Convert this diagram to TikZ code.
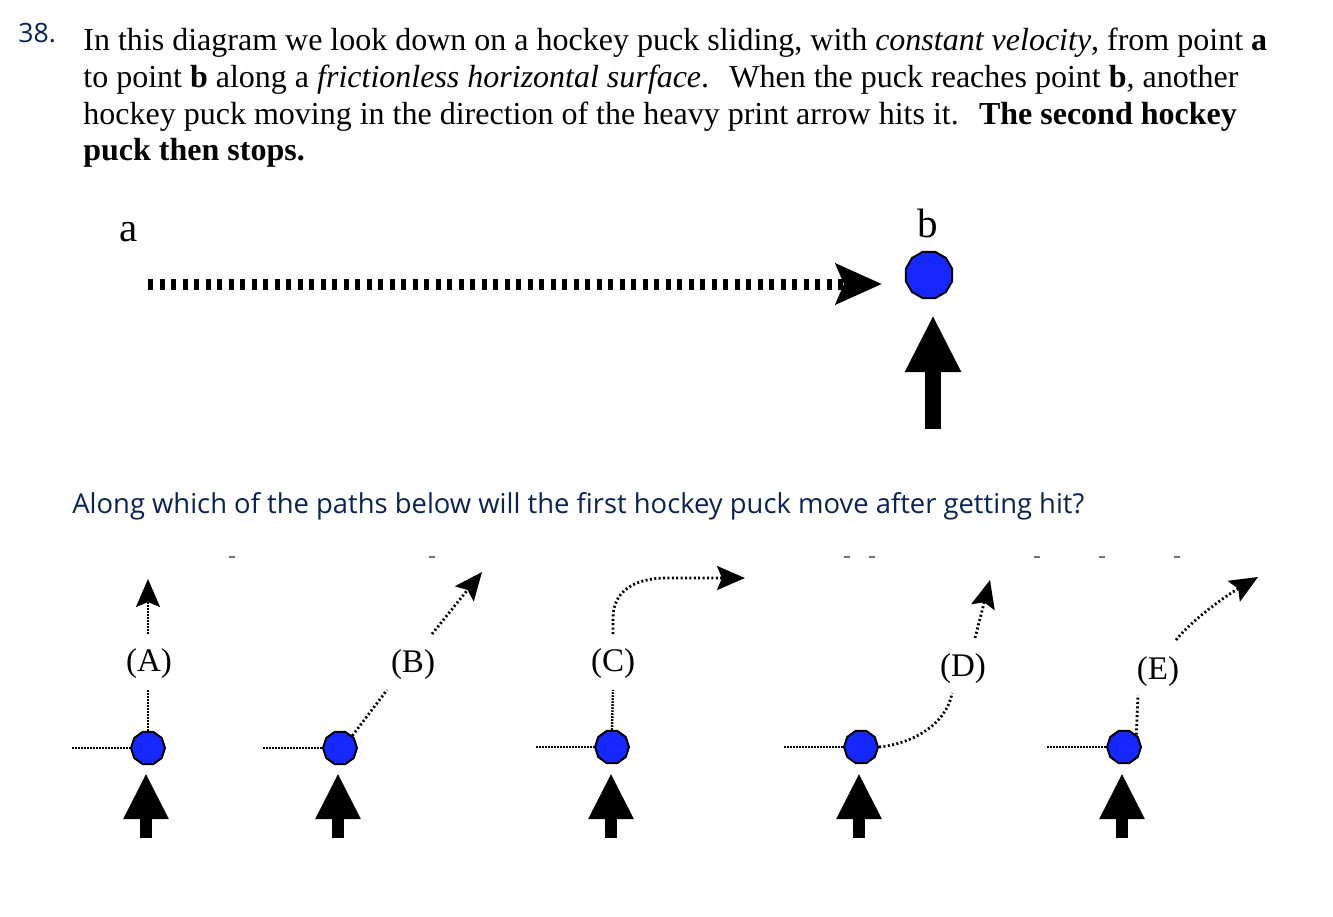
\documentclass[tikz,border=0pt]{standalone}
\usepackage{fontspec}
\setmainfont{Liberation Serif}
\newfontfamily\qfont{Open Sans}
\usetikzlibrary{arrows.meta,shapes.geometric}
\definecolor{qnavy}{RGB}{10,35,85}
\definecolor{puckblue}{RGB}{20,40,255}
\begin{document}
\begin{tikzpicture}[x=0.5pt,y=-0.5pt,
  txt/.style={anchor=base west, inner sep=0pt, font=\fontsize{16}{19}\selectfont},
  qtxt/.style={anchor=base west, inner sep=0pt, text=qnavy},
  lbl/.style={anchor=base, inner sep=0pt, font=\fontsize{20.5}{24}\selectfont},
  optlbl/.style={anchor=base, inner sep=0pt, font=\fontsize{16.5}{20}\selectfont},
  bigpuck/.style={draw=black, line width=1pt, fill=puckblue, regular polygon, regular polygon sides=12, inner sep=0pt, minimum size=24pt},
  puck/.style={draw=black, line width=1pt, fill=puckblue, regular polygon, regular polygon sides=10, inner sep=0pt, minimum size=17pt},
  heavy/.style={line width=8pt, -{Triangle[length=28.5pt,width=26pt]}},
  hit/.style={line width=6pt, -{Triangle[length=23pt,width=21pt]}},
  bigdots/.style={line width=5.5pt, dash pattern=on 2.5pt off 3.25pt, -{Stealth[length=23pt,width=20pt,inset=4pt]}},
  finedots/.style={line width=1.2pt, dash pattern=on 0.8pt off 0.7pt},
  pathdots/.style={line width=1.4pt, dash pattern=on 1pt off 1.2pt},
  tip/.style={-{Stealth[length=14pt,width=12pt,inset=2.5pt]}},
  stray/.style={line width=0.8pt, draw=black!55}
]
\useasboundingbox (0,0) rectangle (1333,916);

% header text
\node[qtxt, font=\qfont\fontsize{13.3}{16}\selectfont] (num) at (18,42) {38.};
\node[txt] (l1) at (83,50) {In this diagram we look down on a hockey puck sliding, with \textit{constant velocity}, from point \textbf{a}};
\node[txt] (l2) at (83,87) {to point \textbf{b} along a \textit{frictionless horizontal surface}.\hspace{0.3em} When the puck reaches point \textbf{b}, another};
\node[txt] (l3) at (83,124) {hockey puck moving in the direction of the heavy print arrow hits it.\hspace{0.3em} \textbf{The second hockey}};
\node[txt] (l4) at (83,160) {\textbf{puck then stops.}};

% top diagram
\node[lbl] (la) at (129,241.5) {a};
\node[lbl] (lb) at (928,237) {b};
\node[bigpuck] (pb) at (929,275) {};
\coordinate (astart) at (148,284);
\coordinate (atip) at (882,284);
\draw[bigdots] (astart) -- (atip);
\coordinate (hbot) at (933,429);
\coordinate (htip) at (933,315);
\draw[heavy] (hbot) -- (htip);

% question
\node[qtxt, font=\qfont\fontsize{13.7}{16}\selectfont] (q) at (72,513) {Along which of the paths below will the first hockey puck move after getting hit?};

% stray marks
\foreach \sx in {232,432,847,872,1037,1102,1177}
  \draw[stray] (\sx-3,557) -- (\sx+3,557);

% (A)
\node[puck] (pA) at (148,748) {};
\node[optlbl] (lA) at (149,671) {(A)};
\coordinate (inA) at (72,748);
\draw[finedots] (inA) -- (pA.west);
\coordinate (a1) at (148,690);
\draw[finedots] (pA.north) -- (a1);
\coordinate (a2) at (148,634);
\coordinate (a3) at (148,579);
\draw[finedots, tip] (a2) -- (a3);
\draw[hit] (146,838) -- (146,773);

% (B)
\node[puck] (pB) at (340,748) {};
\node[optlbl] (lB) at (413,672) {(B)};
\coordinate (inB) at (263,748);
\draw[finedots] (inB) -- (pB.west);
\coordinate (b1) at (387,690);
\draw[pathdots] (pB.north east) -- (b1);
\coordinate (b2) at (432,634);
\coordinate (b3) at (482,572);
\draw[pathdots, tip] (b2) -- (b3);
\draw[hit] (338,838) -- (338,773);

% (C)
\node[puck] (pC) at (612,747) {};
\node[optlbl] (lC) at (613,671) {(C)};
\coordinate (inC) at (536,747);
\draw[finedots] (inC) -- (pC.west);
\coordinate (c1) at (613,690);
\draw[finedots] (pC.north) -- (c1);
\coordinate (c2) at (613,634);
\coordinate (c3) at (667,578);
\coordinate (c4) at (745,578);
\draw[pathdots, tip] (c2) -- (613,618) .. controls (613,590) and (636,578) .. (c3) -- (c4);
\draw[hit] (611,838) -- (611,773);

% (D)
\node[puck] (pD) at (861,747) {};
\node[optlbl] (lD) at (963,676) {(D)};
\coordinate (inD) at (784,747);
\draw[finedots] (inD) -- (pD.west);
\coordinate (d1) at (952,693);
\draw[pathdots] (pD.east) .. controls (910,744) and (946,726) .. (d1);
\coordinate (d2) at (975,638);
\coordinate (d3) at (990,580);
\draw[pathdots, tip] (d2) -- (d3);
\draw[hit] (859,838) -- (859,773);

% (E)
\node[puck] (pE) at (1124,747) {};
\node[optlbl] (lE) at (1158,679) {(E)};
\coordinate (inE) at (1047,747);
\draw[finedots] (inE) -- (pE.west);
\coordinate (e1) at (1138,695);
\draw[pathdots] (pE.north east) -- (e1);
\coordinate (e2) at (1176,640);
\coordinate (e3) at (1258,577);
\draw[pathdots, tip] (e2) .. controls (1192,620) and (1224,597) .. (e3);
\draw[hit] (1122,838) -- (1122,773);
\end{tikzpicture}
\end{document}
